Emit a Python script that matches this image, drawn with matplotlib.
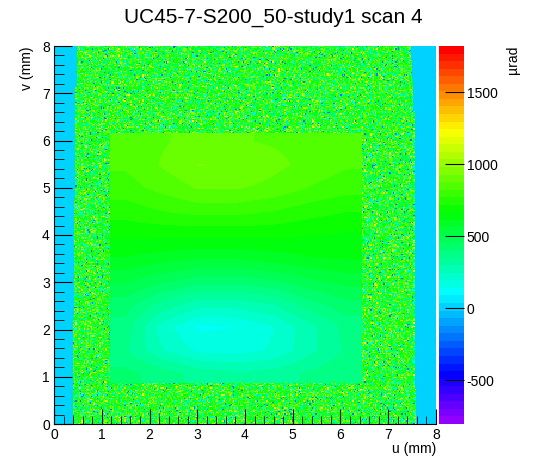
import colorsys
import numpy as np
import matplotlib
matplotlib.use("Agg")
import matplotlib.pyplot as plt
from matplotlib.colors import ListedColormap, Normalize
from matplotlib.ticker import MultipleLocator

plt.rcParams['font.family'] = ['Liberation Sans', 'DejaVu Sans']
plt.rcParams['axes.unicode_minus'] = False

TITLE = "UC45-7-S200_50-study1 scan 4"
ZMIN, ZMAX = -805.0, 1820.0
NBINS = 320                      # 8 mm / 0.025 mm
EDGE_VALUE = -10.0               # value of the empty strips left/right

# noisy border region boundaries (mm), read per v = 0..8
v_edge = [0, 1, 2, 3, 4, 5, 6, 7, 8]
u_left = [0.40, 0.40, 0.41, 0.42, 0.43, 0.44, 0.45, 0.46, 0.48]
u_right = [7.57, 7.56, 7.55, 7.55, 7.55, 7.55, 7.55, 7.53, 7.47]

# inner smooth square (mm)
sq_u = (1.17, 6.46)
sq_v = (0.88, 6.16)
# coarse values, rows from bottom (v=0.9) to top (v=6.15)
sq_rows = [
    [420, 380, 330, 310, 320, 360, 400],
    [360, 250, 180, 170, 200, 280, 360],
    [380, 220, 130, 140, 190, 280, 370],
    [430, 340, 270, 270, 300, 380, 440],
    [520, 470, 430, 430, 450, 500, 530],
    [610, 590, 570, 570, 590, 610, 620],
    [680, 680, 680, 680, 680, 670, 660],
    [740, 770, 790, 790, 770, 740, 720],
    [800, 840, 880, 880, 860, 820, 790],
    [830, 880, 930, 920, 890, 860, 830],
    [840, 870, 890, 880, 870, 860, 840],
]

# spread of values seen in the noisy border (colour mix)
noise_levels = [-200, 60, 150, 200, 250, 290, 330, 360, 390, 420,
                450, 480, 510, 540, 570, 600, 620, 640, 660, 680,
                700, 700, 710, 720, 740, 750, 760, 780, 800, 820,
                840, 860, 880, 910, 940, 980, 1020, 1080, 1150, 1220]


def root_pretty_palette(n=50):
    # ROOT "pretty palette": hue 280 -> 0 at L=0.5, S=1
    cols = []
    for i in range(n):
        hue = 280.0 - (i + 1) * (280.0 / n)
        cols.append(colorsys.hls_to_rgb(hue / 360.0, 0.5, 1.0))
    return ListedColormap(cols)


cmap = root_pretty_palette()
norm = Normalize(ZMIN, ZMAX)

# ---- border field on the fine grid
centers = (np.arange(NBINS) + 0.5) * 8.0 / NBINS
uu, vv = np.meshgrid(centers, centers)
ii, jj = np.meshgrid(np.arange(NBINS, dtype=np.uint64), np.arange(NBINS, dtype=np.uint64))
h = ii * np.uint64(374761393) + jj * np.uint64(668265263)
h = (h ^ (h >> np.uint64(13))) * np.uint64(1274126177)
h = h ^ (h >> np.uint64(16))
field = np.asarray(noise_levels, dtype=float)[(h % np.uint64(len(noise_levels))).astype(int)]

left = np.interp(vv, v_edge, u_left)
right = np.interp(vv, v_edge, u_right)
field[(uu < left) | (uu > right)] = EDGE_VALUE
inside = (uu > sq_u[0]) & (uu < sq_u[1]) & (vv > sq_v[0]) & (vv < sq_v[1])
field = np.ma.masked_where(inside, field)

fig = plt.figure(figsize=(5.46, 4.72), dpi=100)
ax = fig.add_axes([54 / 546, 48 / 472, 382 / 546, 378 / 472])

pad = 0.05  # square drawn under the border layer, slightly larger to avoid gaps
ax.imshow(np.array(sq_rows, dtype=float), origin="lower", cmap=cmap, norm=norm,
          extent=[sq_u[0] - pad, sq_u[1] + pad, sq_v[0] - pad, sq_v[1] + pad],
          interpolation="bilinear", aspect="auto")
ax.imshow(field, origin="lower", cmap=cmap, norm=norm, extent=[0, 8, 0, 8],
          interpolation="nearest", aspect="auto")
ax.set_xlim(0, 8)
ax.set_ylim(0, 8)

for s in ("top", "right"):
    ax.spines[s].set_visible(False)
ax.xaxis.set_major_locator(MultipleLocator(1))
ax.yaxis.set_major_locator(MultipleLocator(1))
ax.xaxis.set_minor_locator(MultipleLocator(0.2))
ax.yaxis.set_minor_locator(MultipleLocator(0.2))
ax.tick_params(axis="x", which="major", direction="in", length=11, labelsize=10, pad=3)
ax.tick_params(axis="x", which="minor", direction="in", length=6)
ax.tick_params(axis="y", which="major", direction="in", length=13, labelsize=10, pad=3)
ax.tick_params(axis="y", which="minor", direction="in", length=7)
ax.set_xlabel("u (mm)", fontsize=10, loc="right", labelpad=0)
ax.set_ylabel("v (mm)", fontsize=10, loc="top", labelpad=6)

# ---- palette axis
cax = fig.add_axes([439 / 546, 48 / 472, 25 / 546, 378 / 472])
sm = matplotlib.cm.ScalarMappable(norm=norm, cmap=cmap)
cb = fig.colorbar(sm, cax=cax)
cb.outline.set_visible(False)
cb.set_ticks([-500, 0, 500, 1000, 1500])
cax.tick_params(direction="in", length=14, labelsize=10, pad=2)
cax.minorticks_off()
fig.text(513 / 546, 1 - 46 / 472, "\u00b5rad", rotation=90, fontsize=10,
         ha="center", va="top")

fig.text(273 / 546, 1 - 17 / 472, TITLE, fontsize=15, ha="center", va="center")

fig.savefig("out.png", dpi=100)
